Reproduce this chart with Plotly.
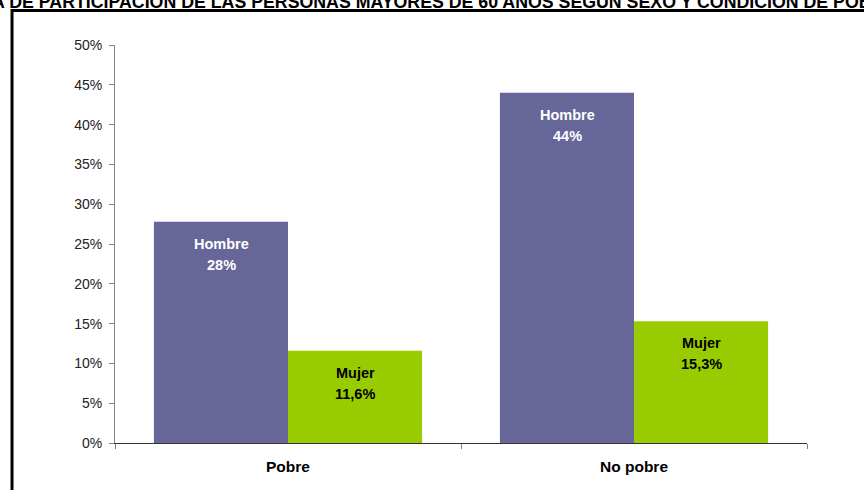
import plotly.graph_objects as go

categories = ["Pobre", "No pobre"]
hombre = [27.8, 44.0]
mujer = [11.6, 15.3]
hombre_labels = ["28%", "44%"]
mujer_labels = ["11,6%", "15,3%"]
series_names = ["Hombre", "Mujer"]
y_ticks = [0, 5, 10, 15, 20, 25, 30, 35, 40, 45, 50]
title_text = "TASA DE PARTICIPACIÓN DE LAS PERSONAS MAYORES DE 60 AÑOS SEGÚN SEXO Y CONDICIÓN DE POBREZA"

FONT = "Liberation Sans, Arial, sans-serif"
C_H = "#666699"
C_M = "#99CC00"

fig = go.Figure()
fig.add_trace(go.Bar(x=categories, y=hombre, name=series_names[0], marker=dict(color=C_H, line=dict(width=0))))
fig.add_trace(go.Bar(x=categories, y=mujer, name=series_names[1], marker=dict(color=C_M, line=dict(width=0))))

BAR_HALF = 67
LBL = 14.5
annotations = []
for cat, v, lab in zip(categories, hombre, hombre_labels):
    for txt, ys in ((series_names[0], -22), (lab, -43)):
        annotations.append(dict(x=cat, y=v, xref="x", yref="y", text="<b>%s</b>" % txt, showarrow=False,
                                xshift=-BAR_HALF, yshift=ys, yanchor="middle",
                                font=dict(family=FONT, size=LBL, color="white")))
for cat, v, lab in zip(categories, mujer, mujer_labels):
    for txt, ys in ((series_names[1], -22), (lab, -43)):
        annotations.append(dict(x=cat, y=v, xref="x", yref="y", text="<b>%s</b>" % txt, showarrow=False,
                                xshift=BAR_HALF, yshift=ys, yanchor="middle",
                                font=dict(family=FONT, size=LBL, color="black")))

fig.update_layout(
    width=864, height=490,
    margin=dict(l=115, r=57, t=45, b=47),
    paper_bgcolor="white", plot_bgcolor="white",
    barmode="group", bargap=0.225, bargroupgap=0,
    showlegend=False,
    font=dict(family=FONT, size=14, color="#222222"),
    title=dict(text="<b>%s</b>" % title_text, x=0.508, xref="container", xanchor="center",
               y=1 - 2 / 490, yref="container", yanchor="middle",
               font=dict(family=FONT, size=17.75, color="black")),
    annotations=annotations,
    shapes=[dict(type="rect", xref="paper", yref="paper", x0=-0.1488, x1=2, y0=-1, y1=1.0867,
                 line=dict(color="black", width=3), layer="above")],
    xaxis=dict(showline=True, linecolor="#333333", linewidth=1, ticks="outside", tickson="boundaries",
               ticklen=5, tickcolor="#808080", showgrid=False, zeroline=False,
               tickfont=dict(family=FONT, size=15.5, color="black"), ticklabelstandoff=9,
               ticktext=["<b>%s</b>" % c for c in categories], tickvals=categories, tickmode="array"),
    yaxis=dict(range=[0, 50], tickvals=y_ticks, ticktext=["%d%%" % t for t in y_ticks], tickmode="array",
               showline=True, linecolor="#888888", linewidth=1, ticks="outside", ticklen=5,
               tickcolor="#888888", showgrid=False, zeroline=False, ticklabelstandoff=4,
               tickfont=dict(family=FONT, size=14, color="#222222")),
)

fig.write_html("out.html", config={"displayModeBar": False},
               post_script="document.body.style.margin='0';document.body.style.overflow='hidden';")
